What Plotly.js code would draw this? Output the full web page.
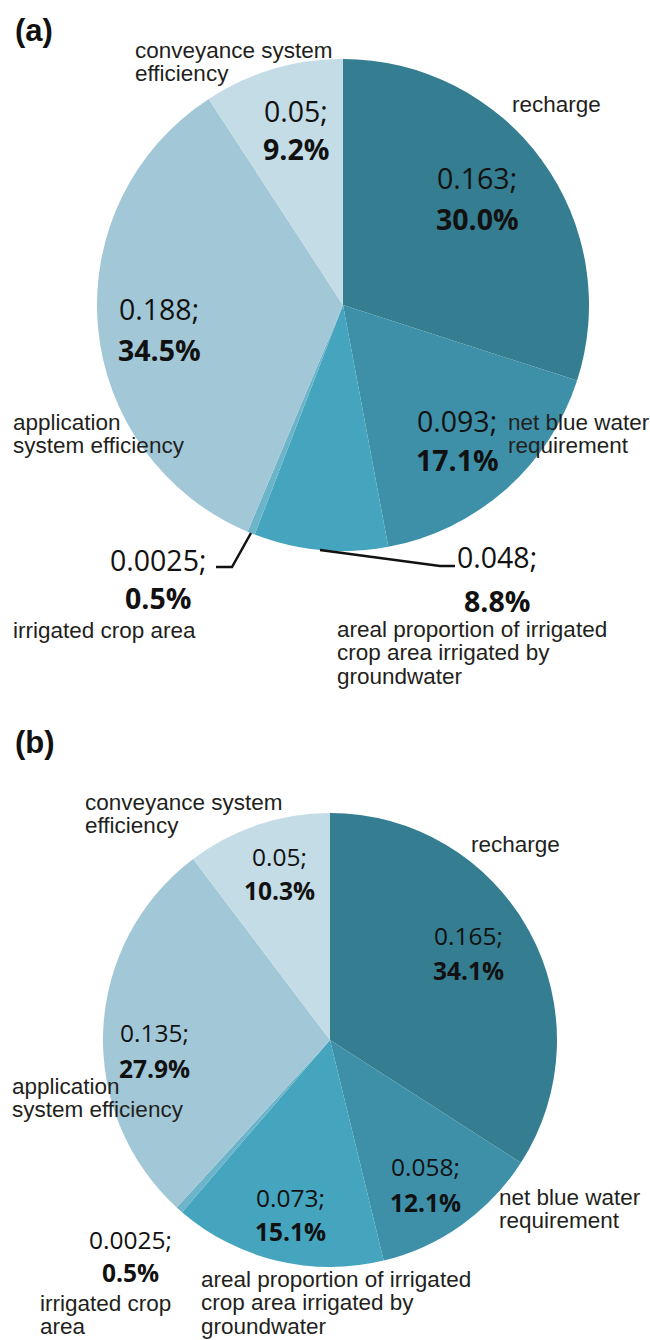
<!DOCTYPE html>
<html><head><meta charset="utf-8">
<script src="https://cdn.plot.ly/plotly-3.0.1.min.js"></script>
<style>html,body{margin:0;padding:0;background:#fff}</style>
</head><body><div id="chart" style="width:650px;height:1340px"></div>
<script>
// ---- data ----
const categories = ["recharge", "net blue water requirement", "areal proportion of irrigated crop area irrigated by groundwater", "irrigated crop area", "application system efficiency", "conveyance system efficiency"];
const valuesA = [0.163, 0.093, 0.048, 0.0025, 0.188, 0.05];
const percentA = [30.0, 17.1, 8.8, 0.5, 34.5, 9.2];
const valuesB = [0.165, 0.058, 0.073, 0.0025, 0.135, 0.05];
const percentB = [34.1, 12.1, 15.1, 0.5, 27.9, 10.3];
const panelLabels = ["(a)", "(b)"];

// ---- styles / layout ----
const sliceColors = ["#357d90", "#3e90a9", "#45a4be", "#6cb4c9", "#a2c8d8", "#c3dce5"];
const W = 650, H = 1340;
const px = x => x / W, py = y => 1 - y / H;
const nameFont = {family: "Liberation Sans, Arial, sans-serif", size: 22.5, color: "#231f20"};
const nameGap = 23.5;

const panels = [
  {values: valuesA, pct: percentA, label: panelLabels[0], cx: 343, cy: 305, r: 246, labelY: 31, valSize: 28.5,
   valPos: [[477, 178, 219], [457, 421, 460], [497, 557, 601], [158, 560, 598], [159, 309, 350], [296, 111, 149]],
   names: [
     {lines: ["recharge"], x: 512, y: 112},
     {lines: ["net blue water", "requirement"], x: 508, y: 430},
     {lines: ["areal proportion of irrigated", "crop area irrigated by", "groundwater"], x: 337, y: 637},
     {lines: ["irrigated crop area"], x: 13, y: 638},
     {lines: ["application", "system efficiency"], x: 13, y: 430},
     {lines: ["conveyance system", "efficiency"], x: 135, y: 58}
   ],
   leaders: ["M216,567 L232,567 L251,533", "M320,550 L440,566 L455,566"]},
  {values: valuesB, pct: percentB, label: panelLabels[1], cx: 330, cy: 1040, r: 227, labelY: 742, valSize: 24.5,
   valPos: [[468, 935, 970], [425, 1166, 1202], [290, 1197, 1231], [130, 1239, 1272], [154, 1032, 1068], [279, 856, 890]],
   names: [
     {lines: ["recharge"], x: 471, y: 852},
     {lines: ["net blue water", "requirement"], x: 499, y: 1205},
     {lines: ["areal proportion of irrigated", "crop area irrigated by", "groundwater"], x: 201, y: 1287},
     {lines: ["irrigated crop", "area"], x: 40, y: 1311},
     {lines: ["application", "system efficiency"], x: 12, y: 1094},
     {lines: ["conveyance system", "efficiency"], x: 85, y: 810}
   ],
   leaders: []}
];

const traces = [], annotations = [], shapes = [];
panels.forEach(p => {
  traces.push({
    type: "pie", values: p.pct, labels: categories, sort: false, direction: "clockwise", rotation: 0,
    marker: {colors: sliceColors, line: {width: 0}}, textinfo: "none", hoverinfo: "label+value",
    showlegend: false,
    domain: {x: [px(p.cx - p.r), px(p.cx + p.r)], y: [py(p.cy + p.r), py(p.cy - p.r)]}
  });
  annotations.push({text: "<b>" + p.label + "</b>", xref: "paper", yref: "paper", x: px(13), y: py(p.labelY),
    xanchor: "left", yanchor: "middle", showarrow: false, font: {family: "Liberation Sans, Arial, sans-serif", size: 31, color: "#111"}});
  p.values.forEach((v, i) => {
    const pos = p.valPos[i];
    const vf = {family: "Open Sans, sans-serif", size: p.valSize, color: "#111"};
    annotations.push({text: String(v) + ";", xref: "paper", yref: "paper", x: px(pos[0]), y: py(pos[1]),
      xanchor: "center", yanchor: "middle", showarrow: false, font: vf});
    annotations.push({text: "<b>" + p.pct[i].toFixed(1) + "%</b>", xref: "paper", yref: "paper", x: px(pos[0]), y: py(pos[2]),
      xanchor: "center", yanchor: "middle", showarrow: false, font: vf});
    const nm = p.names[i];
    nm.lines.forEach((ln, k) => {
      annotations.push({text: ln, xref: "paper", yref: "paper", x: px(nm.x - 2), y: py(nm.y + k * nameGap - 7.8),
        xanchor: "left", yanchor: "middle", align: "left", showarrow: false, font: nameFont});
    });
  });
  p.leaders.forEach(path => {
    const pts = path.replace(/M|L/g, " ").trim().split(/\s+/).map(s => s.split(",").map(Number));
    const d = pts.map((q, j) => (j ? "L" : "M") + px(q[0]).toFixed(5) + "," + py(q[1]).toFixed(5)).join(" ");
    shapes.push({type: "path", xref: "paper", yref: "paper", path: d, line: {color: "#111", width: 2.5}});
  });
});

Plotly.newPlot("chart", traces, {
  width: W, height: H, margin: {l: 0, r: 0, t: 0, b: 0},
  paper_bgcolor: "#fff", plot_bgcolor: "#fff",
  annotations: annotations, shapes: shapes
}, {displayModeBar: false, staticPlot: true});
</script>
</body></html>
